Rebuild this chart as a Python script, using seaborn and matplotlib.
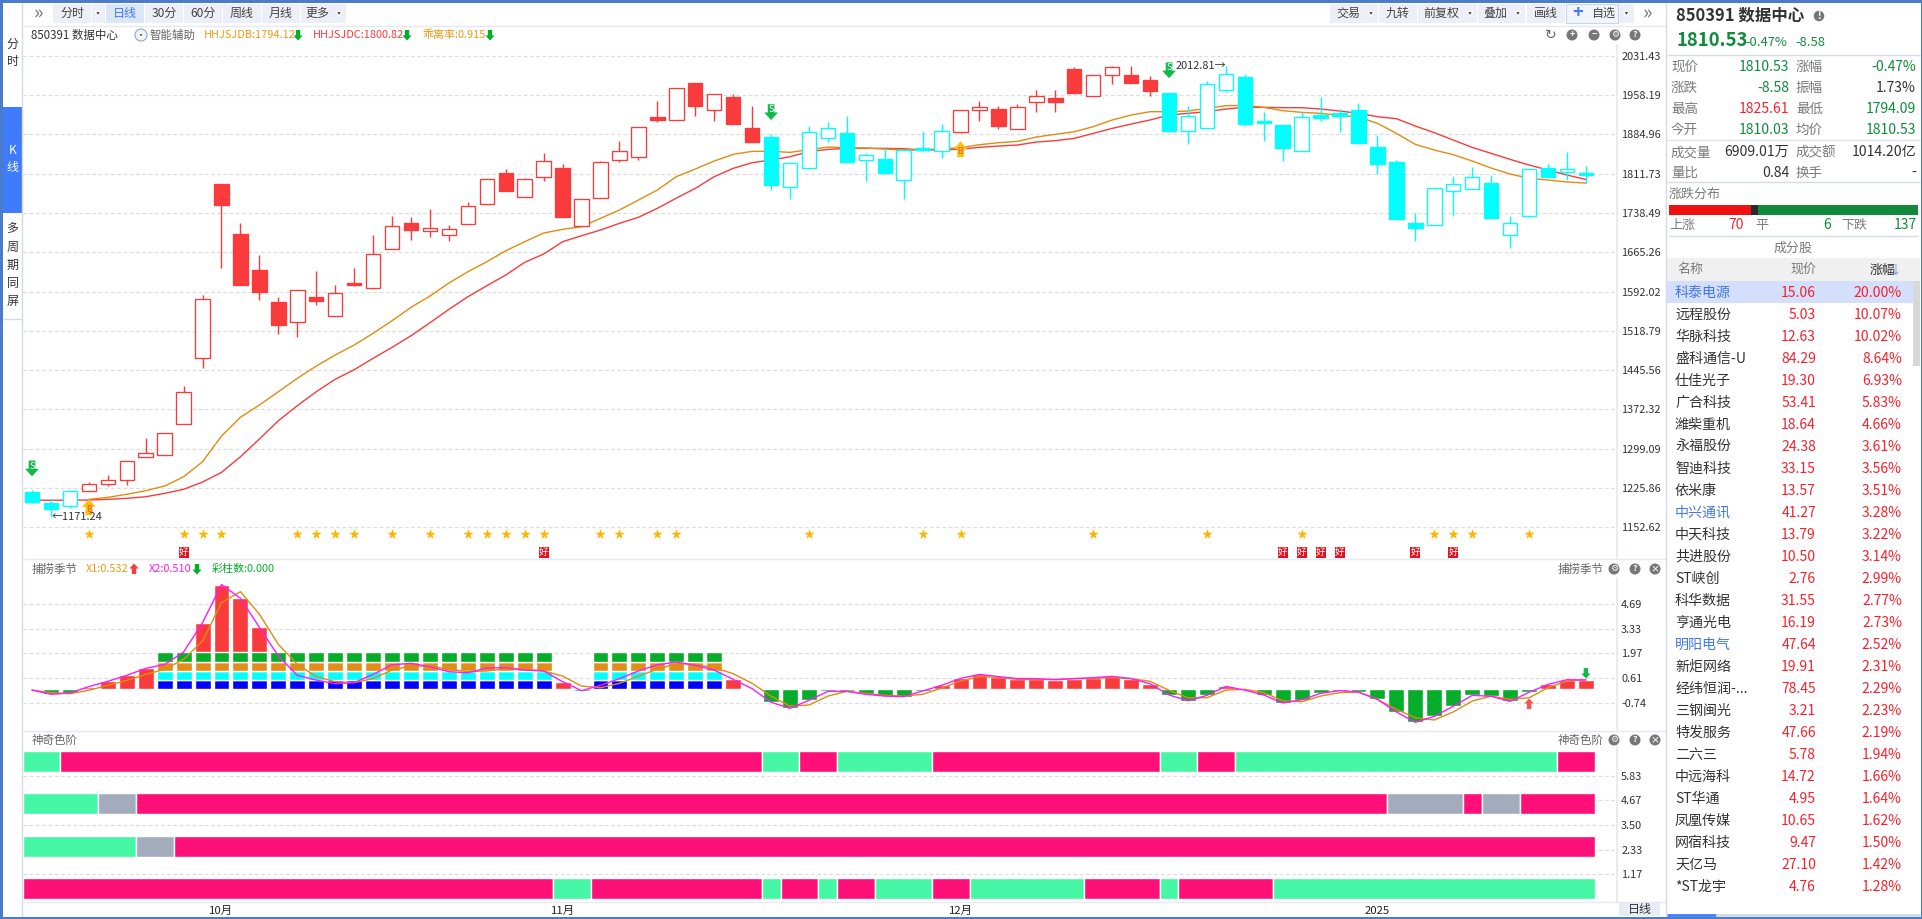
import matplotlib
matplotlib.use("Agg")
import matplotlib.pyplot as plt
import seaborn as sns
import numpy as np
from matplotlib.patches import Rectangle, Polygon, Circle

# ---- price panel, daily candles ----
opens = [1218, 1198, 1193, 1221, 1233, 1240, 1283, 1287, 1345, 1469,
         1792, 1699, 1632, 1572, 1536, 1582, 1546, 1608, 1599, 1671,
         1720, 1704, 1697, 1717, 1756, 1813, 1769, 1805, 1822, 1714,
         1766, 1838, 1842, 1917, 1911, 1980, 1930, 1954, 1897, 1880,
         1786, 1823, 1879, 1887, 1838, 1839, 1799, 1859, 1853, 1889,
         1931, 1932, 1894, 1945, 1953, 2007, 1956, 1996, 1995, 1986,
         1962, 1892, 1896, 1968, 1992, 1910, 1902, 1854, 1921, 1924,
         1930, 1861, 1833, 1719, 1716, 1780, 1783, 1794, 1698, 1733,
         1822, 1815, 1812.9]
closes = [1200, 1187, 1220, 1233, 1240, 1276, 1292, 1328, 1404, 1578,
          1754, 1605, 1592, 1530, 1594, 1575, 1589, 1604, 1661, 1715,
          1707, 1710, 1708, 1751, 1801, 1780, 1801, 1835, 1730, 1764,
          1833, 1853, 1898, 1912, 1972, 1938, 1960, 1905, 1871, 1791,
          1831, 1889, 1896, 1834, 1846, 1813, 1855, 1856, 1891, 1930,
          1935, 1901, 1935, 1956, 1946, 1962, 1995, 2010, 1981, 1966,
          1892, 1920, 1978, 1997, 1905, 1906, 1860, 1918, 1916, 1920,
          1869, 1830, 1727, 1710, 1784, 1792, 1805, 1729, 1720, 1820,
          1805, 1820, 1809.2]
highs = [1222, 1205, 1222, 1237, 1250, 1276, 1319, 1328, 1416, 1585,
         1792, 1720, 1660, 1582, 1594, 1631, 1604, 1636, 1697, 1733,
         1730, 1745, 1716, 1759, 1801, 1820, 1803, 1850, 1830, 1764,
         1835, 1872, 1898, 1947, 1972, 1981, 1960, 1960, 1938, 1886,
         1831, 1900, 1908, 1919, 1850, 1859, 1855, 1891, 1904, 1931,
         1947, 1938, 1941, 1967, 1967, 2010, 1995, 2012, 2012, 1994,
         1964, 1938, 1984, 2012.81, 1997, 1926, 1902, 1927, 1954, 1932,
         1943, 1884, 1838, 1739, 1784, 1807, 1824, 1810, 1733, 1820,
         1830, 1852, 1825.61]
lows = [1200, 1171.24, 1189, 1221, 1230, 1231, 1283, 1287, 1345, 1449,
        1636, 1605, 1576, 1512, 1508, 1567, 1546, 1602, 1597, 1671,
        1688, 1694, 1687, 1717, 1756, 1780, 1769, 1798, 1730, 1714,
        1766, 1834, 1838, 1908, 1911, 1919, 1910, 1905, 1871, 1782,
        1764, 1823, 1871, 1834, 1798, 1813, 1764, 1854, 1841, 1888,
        1910, 1894, 1894, 1927, 1927, 1962, 1956, 1979, 1981, 1957,
        1890, 1867, 1896, 1964, 1901, 1873, 1836, 1854, 1910, 1889,
        1869, 1811, 1727, 1686, 1716, 1733, 1783, 1729, 1673, 1733,
        1803, 1800, 1794.09]
red_ranges = [(3, 38), (49, 59)]

hhjsjdb = [np.nan, np.nan, np.nan, 1204.7, 1208.4, 1214.1, 1220.8, 1229.5, 1246.9, 1274.8,
           1322.7, 1357.6, 1380.5, 1405.3, 1430.2, 1453.1, 1473.6, 1492.3, 1514.1, 1537.6,
           1562.5, 1583.6, 1607.8, 1628.9, 1647.5, 1668, 1684.8, 1701, 1707.9, 1712.7,
           1728.4, 1743.9, 1762.5, 1781.1, 1806, 1820.3, 1835.2, 1847.6, 1853.2, 1853.2,
           1851.3, 1856.3, 1861.3, 1860, 1859.4, 1857.5, 1855.7, 1855.7, 1858.2, 1860,
           1865.6, 1869.3, 1871.8, 1879.9, 1884.9, 1889.8, 1899.2, 1911.6, 1920.9, 1927.1,
           1927.1, 1928.4, 1933.3, 1938.3, 1938.9, 1935.2, 1929, 1925.9, 1924, 1920.3,
           1917.2, 1905.4, 1886.7, 1866.2, 1855.7, 1847, 1835.2, 1822.1, 1811, 1802.9,
           1799.8, 1796.1, 1794.12]
hhjsjdc = [1203.4, 1202.9, 1203.4, 1203.4, 1204.7, 1206.6, 1209.6, 1215.9, 1223.4, 1237,
           1255, 1284.1, 1317.1, 1351.2, 1379.2, 1405.3, 1428.4, 1446.3, 1467.5, 1488,
           1509.6, 1533.8, 1558.8, 1582.3, 1602.8, 1622.7, 1646.4, 1661.9, 1684.8, 1696,
           1706.6, 1719.1, 1730.3, 1747, 1766, 1784.2, 1806, 1821.5, 1832.1, 1837,
           1843.2, 1852.6, 1856.9, 1858.8, 1858.8, 1858.8, 1858.2, 1855.7, 1855.7, 1857.5,
           1860.6, 1863.1, 1865, 1870.6, 1873.1, 1877.4, 1886.7, 1896, 1904.1, 1911.6,
           1920.9, 1924, 1927.1, 1932.1, 1935.2, 1935.2, 1934.6, 1934.6, 1932.1, 1928.4,
           1924, 1917.8, 1914.1, 1900.4, 1888, 1874.3, 1860.6, 1849.5, 1838.3, 1827.7,
           1818.4, 1809.1, 1800.82]

sell_signals = [0, 39, 60]
buy_signals = [3, 49]
star_days = [3, 8, 9, 10, 14, 15, 16, 17, 19, 21, 23, 24, 25, 26, 27, 30, 31, 33, 34,
             41, 47, 49, 56, 62, 67, 74, 75, 76, 79]
good_days = [8, 27, 66, 67, 68, 69, 73, 75]
star_level = 1140
good_level = 1105
price_ticks = [2031.43, 1958.19, 1884.96, 1811.73, 1738.49, 1665.26, 1592.02, 1518.79,
               1445.56, 1372.32, 1299.09, 1225.86, 1152.62]

# ---- second panel ----
x1_line = [-0.04, -0.18, -0.24, -0.05, 0.22, 0.49, 0.82, 1.10, 1.65, 2.65,
           4.76, 5.36, 4.12, 2.47, 1.37, 0.70, 0.42, 0.37, 0.59, 1.06,
           1.28, 1.28, 1.10, 0.97, 1.01, 1.13, 1.10, 1.01, 0.73, 0.18,
           0.09, 0.33, 0.73, 1.10, 1.41, 1.37, 1.19, 0.86, 0.33, -0.37,
           -0.92, -0.86, -0.37, -0.11, -0.22, -0.33, -0.37, -0.27, 0.07, 0.46,
           0.70, 0.66, 0.55, 0.53, 0.55, 0.59, 0.60, 0.64, 0.59, 0.44,
           -0.05, -0.46, -0.46, -0.04, 0.0, -0.18, -0.62, -0.68, -0.37, -0.18,
           -0.15, -0.55, -1.10, -1.56, -1.68, -1.24, -0.64, -0.37, -0.55, -0.46,
           0.09, 0.46, 0.532]
x2_line = [-0.04, -0.27, -0.20, 0.15, 0.44, 0.77, 1.15, 1.37, 2.05, 3.66,
           5.75, 5.00, 3.40, 1.83, 0.77, 0.51, 0.31, 0.37, 0.82, 1.35,
           1.43, 1.24, 0.97, 0.91, 1.17, 1.19, 1.06, 1.01, 0.42, -0.07,
           0.22, 0.59, 1.01, 1.35, 1.50, 1.32, 1.06, 0.55, 0.04, -0.71,
           -1.04, -0.60, -0.11, -0.11, -0.27, -0.37, -0.40, -0.09, 0.22, 0.60,
           0.82, 0.70, 0.59, 0.59, 0.53, 0.59, 0.64, 0.71, 0.59, 0.31,
           -0.31, -0.62, -0.33, 0.16, -0.04, -0.31, -0.75, -0.57, -0.22, -0.07,
           -0.15, -0.55, -1.24, -1.81, -1.48, -0.93, -0.33, -0.38, -0.66, -0.16,
           0.27, 0.53, 0.51]
stack_days = list(range(7, 28)) + list(range(30, 37))
stack_levels = [0.49, 1.00, 1.48, 2.03]
stack_colors = ["#0000FF", "#00FFFF", "#E08E18", "#05AD2B"]
panel2_ticks = [4.69, 3.33, 1.97, 0.61, -0.74]

# ---- third panel, runs of (state, number of days) from top row to bottom row ----
row_top = [("g", 2), ("p", 37), ("g", 2), ("p", 2), ("g", 5), ("p", 12), ("g", 2), ("p", 2), ("g", 17), ("p", 2)]
row_second = [("g", 4), ("n", 2), ("p", 66), ("n", 4), ("p", 1), ("n", 2), ("p", 4)]
row_third = [("g", 6), ("n", 2), ("p", 75)]
row_bottom = [("p", 28), ("g", 2), ("p", 9), ("g", 1), ("p", 2), ("g", 1), ("p", 2), ("g", 3), ("p", 2),
              ("g", 6), ("p", 4), ("g", 1), ("p", 5), ("g", 17)]
panel3_ticks = [5.83, 4.67, 3.50, 2.33, 1.17]
month_days = [10, 28, 49, 71]
month_labels = ["10月", "11月", "12月", "2025"]

# ---- side table ----
stock_names = ["科泰电源", "远程股份", "华脉科技", "盛科通信-U", "仕佳光子", "广合科技", "潍柴重机",
               "永福股份", "智迪科技", "依米康", "中兴通讯", "中天科技", "共进股份", "ST峡创",
               "科华数据", "亨通光电", "明阳电气", "新炬网络", "经纬恒润-...", "三钢闽光", "特发服务",
               "二六三", "中远海科", "ST华通", "凤凰传媒", "网宿科技", "天亿马", "*ST龙宇"]
stock_prices = ["15.06", "5.03", "12.63", "84.29", "19.30", "53.41", "18.64", "24.38", "33.15", "13.57",
                "41.27", "13.79", "10.50", "2.76", "31.55", "16.19", "47.64", "19.91", "78.45", "3.21",
                "47.66", "5.78", "14.72", "4.95", "10.65", "9.47", "27.10", "4.76"]
stock_pcts = ["20.00%", "10.07%", "10.02%", "8.64%", "6.93%", "5.83%", "4.66%", "3.61%", "3.56%", "3.51%",
              "3.28%", "3.22%", "3.14%", "2.99%", "2.77%", "2.73%", "2.52%", "2.31%", "2.29%", "2.23%",
              "2.19%", "1.94%", "1.66%", "1.64%", "1.62%", "1.50%", "1.42%", "1.28%"]
blue_names = ["科泰电源", "中兴通讯", "明阳电气"]

RED = "#F93B3B"
CYAN = "#00FFFF"
ORANGE = "#E08C10"
MAGENTA = "#FF1AFF"
GRN = "#05AD2B"
TXT_GREEN = "#118A3C"
TXT_RED = "#F5222D"
LABEL = "#7A7A7A"
GRID = "#DDDDDD"
EDGE = "#E6E9F2"

W, H = 1922, 919
AX_L, AX_R = 23, 1617
SPACING = 18.95
FIRST = 32

sns.set_theme(style="white")
plt.rcParams["font.family"] = ["Noto Sans CJK SC", "DejaVu Sans"]
plt.rcParams["axes.unicode_minus"] = False

fig = plt.figure(figsize=(W / 100, H / 100), dpi=100, facecolor="white")


def make_axes(top, bottom, ylim):
    ax = fig.add_axes([AX_L / W, 1 - bottom / H, (AX_R - AX_L) / W, (bottom - top) / H])
    ax.set_xlim((AX_L - FIRST) / SPACING, (AX_R - FIRST) / SPACING)
    ax.set_ylim(*ylim)
    ax.set_facecolor("white")
    for side in ["top", "bottom", "left"]:
        ax.spines[side].set_visible(False)
    ax.spines["right"].set_color(EDGE)
    ax.set_xticks([])
    return ax


def style_ticks(ax, ticks, fmt="{:.2f}"):
    ax.yaxis.tick_right()
    ax.set_yticks(ticks)
    ax.set_yticklabels([fmt.format(t) for t in ticks], fontsize=7.9, color="#333333")
    ax.tick_params(axis="y", length=0, pad=3)
    ax.grid(axis="y", color=GRID, linestyle=(0, (3, 2)), linewidth=0.9)
    ax.set_axisbelow(True)


days = np.arange(len(closes))

# price panel
ax_price = make_axes(45, 558, (1095.4, 2051.4))
style_ticks(ax_price, price_ticks)
sns.lineplot(x=days, y=hhjsjdc, ax=ax_price, color=RED, linewidth=1.0, errorbar=None, zorder=2)
sns.lineplot(x=days, y=hhjsjdb, ax=ax_price, color=ORANGE, linewidth=1.0, errorbar=None, zorder=2)
for i in days:
    is_red = any(a <= i <= b for a, b in red_ranges)
    c = RED if is_red else CYAN
    ax_price.vlines(i, lows[i], highs[i], color=c, linewidth=1.0, zorder=3)
    filled = closes[i] < opens[i]
    ax_price.bar(i, abs(closes[i] - opens[i]), bottom=min(opens[i], closes[i]), width=0.76,
                 facecolor=c if filled else "white", edgecolor=c, linewidth=0.95, zorder=4)
ax_price.scatter(star_days, [star_level] * len(star_days), marker="*", s=62, color="#FFB400",
                 linewidths=0, zorder=4)

# capture panel
ax_cap = make_axes(578, 730, (-2.23, 6.11))
style_ticks(ax_cap, panel2_ticks)
ax_cap.bar(days, x2_line, width=0.84, color=[RED if v > 0 else GRN for v in x2_line], zorder=2)
bottom = 0
for level, col in zip(stack_levels, stack_colors):
    ax_cap.bar(stack_days, [level - bottom] * len(stack_days), bottom=bottom, width=0.84, color=col, zorder=3)
    bottom = level
sns.lineplot(x=days, y=x1_line, ax=ax_cap, color=ORANGE, linewidth=1.0, errorbar=None, zorder=4)
sns.lineplot(x=days, y=x2_line, ax=ax_cap, color=MAGENTA, linewidth=1.0, errorbar=None, zorder=5)

# colour rows panel
ax_rows = make_axes(745, 902, (-0.13, 7.28))
style_ticks(ax_rows, panel3_ticks)
state_colors = {"g": "#45F7A5", "p": "#FF0F78", "n": "#A2ACBC"}
for row_base, runs in zip([6, 4, 2, 0], [row_top, row_second, row_third, row_bottom]):
    start = 0
    for state, n in runs:
        ax_rows.bar(start - 0.5, 1, bottom=row_base, width=n, align="edge", color=state_colors[state], zorder=2)
        start += n
ax_rows.set_xticks(month_days)
ax_rows.set_xticklabels(month_labels, fontsize=8.2, color="#222222")
ax_rows.tick_params(axis="x", length=0, pad=3)

# overlay for everything that is not chart data, in picture pixels
ui = fig.add_axes([0, 0, 1, 1], zorder=10)
ui.set_xlim(0, W)
ui.set_ylim(H, 0)
ui.axis("off")
ui.patch.set_alpha(0)


def text(x, y, s, color="#333333", px=12, ha="left", weight="normal"):
    ui.text(x, y, s, color=color, fontsize=px * 0.72, ha=ha, va="center", fontweight=weight)


def box(x0, y0, x1, y1, color, **kw):
    ui.add_patch(Rectangle((x0, y0), x1 - x0, y1 - y0, facecolor=color, edgecolor=kw.pop("edge", "none"),
                           linewidth=kw.pop("lw", 0), **kw))


def hline(y, x0, x1, color=EDGE, lw=1.0):
    ui.plot([x0, x1], [y, y], color=color, linewidth=lw, solid_capstyle="butt")


def arrow(x, y, up, color, size=1.0):
    s = 1 if up else -1
    pts = [(-2.2, 5), (2.2, 5), (2.2, -0.5), (4.6, -0.5), (0, -5.5), (-4.6, -0.5), (-2.2, -0.5)]
    ui.add_patch(Polygon([(x + a * size, y + s * b * size) for a, b in pts], closed=True, facecolor=color, edgecolor="none"))


def to_ui(ax, xv, yv):
    px_x, px_y = ax.transData.transform((xv, yv))
    return px_x, H - px_y


# chart window borders
box(0, 0, W, 2.5, "#4A7CC8")
box(0, 0, 2.5, H, "#4A7CC8")
box(0, H - 2.5, W, H, "#4A7CC8")
box(W - 1.5, 0, W, H, "#4A7CC8")

# left tabs
ui.plot([22, 22], [3, H - 3], color="#D5D9E8", linewidth=1.0)
box(3, 107, 22, 213, "#3F7BFF")
for y, s, c in [(44, "分", "#333333"), (62, "时", "#333333"), (150, "K", "white"), (168, "线", "white"),
                (229, "多", "#333333"), (247, "周", "#333333"), (265, "期", "#333333"),
                (283, "同", "#333333"), (301, "屏", "#333333")]:
    text(12.5, y, s, c, 12, ha="center")
hline(319, 3, 22, "#D5D9E8")

# top toolbar
hline(25.5, 22, 1666, EDGE)
text(39, 14, "»", "#777777", 20, ha="center")
for x0, x1, s, bg, c in [(53, 91, "分时", "#ECEFF7", "#444444"), (92, 105, "", "#ECEFF7", "#444444"),
                         (106, 144, "日线", "#DCE6F7", "#3F7BFF"), (145, 183, "30分", "#ECEFF7", "#444444"),
                         (184, 222, "60分", "#ECEFF7", "#444444"), (223, 261, "周线", "#ECEFF7", "#444444"),
                         (262, 300, "月线", "#ECEFF7", "#444444"), (301, 346, "更多", "#ECEFF7", "#444444"),
                         (1330, 1378, "交易", "#ECEFF7", "#444444"), (1379, 1417, "九转", "#ECEFF7", "#444444"),
                         (1418, 1477, "前复权", "#ECEFF7", "#444444"), (1478, 1525, "叠加", "#ECEFF7", "#444444"),
                         (1527, 1565, "画线", "#ECEFF7", "#444444")]:
    box(x0, 4, x1, 23, bg)
    if s:
        has_caret = x0 in (301, 1330, 1418, 1478)
        text((x0 + x1) / 2 - (6 if has_caret else 0), 13.5, s, c, 12, ha="center")
    if x0 in (92, 301, 1330, 1418, 1478):
        cx = x1 - 7
        ui.add_patch(Polygon([(cx - 3, 11.5), (cx + 3, 11.5), (cx, 16)], facecolor="#333333"))
box(1566, 4, 1618, 23, "#F2F5FB", edge="#C9D6EE", lw=0.8)
text(1578, 13.5, "+", "#3F7BFF", 18, ha="center", weight="bold")
text(1603, 13.5, "自选", "#444444", 12, ha="center")
box(1619, 4, 1634, 23, "#ECEFF7")
ui.add_patch(Polygon([(1623.5, 11.5), (1629.5, 11.5), (1626.5, 16)], facecolor="#333333"))
text(1648, 14, "»", "#777777", 20, ha="center")

# legend row price
text(31, 35, "850391 数据中心", "#333333", 11.5)
ui.add_patch(Circle((141, 35), 6, facecolor="#EEF2FA", edgecolor="#9AA6C0", linewidth=0.8))
ui.add_patch(Polygon([(138, 33.5), (144, 33.5), (141, 37.5)], facecolor="#444444"))
text(150, 35, "智能辅助", "#666666", 11.5)
text(204, 35, "HHJSJDB:1794.12", "#EE9A12", 11)
arrow(298, 35, False, GRN)
text(313, 35, "HHJSJDC:1800.82", "#F93B3B", 11)
arrow(407, 35, False, GRN)
text(422, 35, "乖离率:0.915", "#EE9A12", 11)
arrow(490, 35, False, GRN)


def icon(x, y, s):
    ui.add_patch(Circle((x, y), 5.5, facecolor="#777777", edgecolor="none"))
    text(x, y - 0.5, s, "white", 9, ha="center", weight="bold")


ui.text(1551, 35, "↻", color="#666666", fontsize=10, ha="center", va="center", family="DejaVu Sans")
for x, s in [(1572, "+"), (1594, "−"), (1615, "⚙"), (1635, "?")]:
    icon(x, 35, s)

# signal arrows, hung off the candles they belong to
for i in sell_signals:
    x, y = to_ui(ax_price, i, highs[i])
    arrow(x, y - 22, False, "#12B84B", 1.5)
    text(x, y - 24, "S", "white", 9, ha="center")
for i in buy_signals:
    x, y = to_ui(ax_price, i, lows[i])
    arrow(x, y + 17, True, "#FFC107", 1.5)
    text(x, y + 19, "B", "#F55A2C", 9, ha="center")
for i in good_days:
    x, y = to_ui(ax_price, i, good_level)
    box(x - 5, y - 5.5, x + 5, y + 5.5, "#E8101C")
    text(x, y, "好", "white", 9.5, ha="center")

# high and low labels
lx, ly = to_ui(ax_price, 1, lows[1])
text(lx + 1, ly, "←1171.24", "#333333", 11)
hx, hy = to_ui(ax_price, 63, highs[63])
text(hx, hy, "2012.81→", "#333333", 11, ha="right")

# panel separators
hline(558.5, 22, 1666)
hline(730.5, 22, 1666)
hline(902, 22, 1666)

# panel 2 header
text(32, 569, "捕捞季节", "#666666", 11.5)
text(86, 569, "X1:0.532", "#EE9A12", 11)
arrow(134, 569, True, "#FF3B3B")
text(149, 569, "X2:0.510", "#FF1AFF", 11)
arrow(197, 569, False, GRN)
text(212, 569, "彩柱数:0.000", "#05AD2B", 11)
text(1558, 569, "捕捞季节", "#666666", 11.5)
for x, s in [(1614, "⚙"), (1635, "?"), (1655, "×")]:
    icon(x, 569, s)

x, y = to_ui(ax_cap, 79, x2_line[79])
arrow(x, 704, True, "#FF5050")
x, y = to_ui(ax_cap, 82, x1_line[82])
arrow(x, 673, False, "#12B84B")

# panel 3 header
text(32, 740, "神奇色阶", "#666666", 11.5)
text(1558, 740, "神奇色阶", "#666666", 11.5)
for x, s in [(1614, "⚙"), (1635, "?"), (1655, "×")]:
    icon(x, 740, s)
box(1619, 903, 1660, 916, "#E8ECF5")
text(1640, 909.5, "日线", "#333333", 12, ha="center")

# right panel
PX = 1667
ui.plot([PX - 1, PX - 1], [3, H - 3], color="#D5D9E8", linewidth=1.0)
text(1676, 16, "850391 数据中心", "#333333", 16.5, weight="bold")
ui.add_patch(Circle((1819, 16), 6, facecolor="#777777"))
text(1819, 16, "!", "white", 10, ha="center", weight="bold")
text(1676, 41, "1810.53", TXT_GREEN, 18.5, weight="bold")
text(1745, 42, "-0.47%", TXT_GREEN, 13)
text(1795, 42, "-8.58", TXT_GREEN, 13)
hline(54.5, PX, W - 2, "#D5D9E8")

rows = [(67, "现价", "1810.53", TXT_GREEN, "涨幅", "-0.47%", TXT_GREEN),
        (88, "涨跌", "-8.58", TXT_GREEN, "振幅", "1.73%", "#333333"),
        (109, "最高", "1825.61", TXT_RED, "最低", "1794.09", TXT_GREEN),
        (130, "今开", "1810.03", TXT_GREEN, "均价", "1810.53", TXT_GREEN),
        (152, "成交量", "6909.01万", "#333333", "成交额", "1014.20亿", "#333333"),
        (173, "量比", "0.84", "#333333", "换手", "-", "#333333")]
for y, a, av, ac, b, bv, bc in rows:
    text(1671, y, a, LABEL, 13.5)
    text(1789, y, av, ac, 14, ha="right")
    text(1796, y, b, LABEL, 13.5)
    text(1916, y, bv, bc, 14, ha="right")
hline(139.5, PX, W - 2, "#E0E3EC")
hline(182, PX, W - 2, "#D5D9E8")

text(1669, 194, "涨跌分布", LABEL, 13)
box(1669, 205, 1751, 215, "#EE1111")
box(1751, 205, 1758, 215, "#2A2A2A")
box(1758, 205, 1918, 215, "#118A3C")
text(1669, 225, "上涨", LABEL, 13)
text(1744, 225, "70", TXT_RED, 14, ha="right")
text(1755, 225, "平", LABEL, 13)
text(1831, 225, "6", TXT_GREEN, 14, ha="right")
text(1841, 225, "下跌", LABEL, 13)
text(1917, 225, "137", TXT_GREEN, 14, ha="right")
hline(235.5, 1669, 1918, "#D5D9E8")
text(1793, 248, "成分股", LABEL, 13, ha="center")

box(PX, 258, W - 2, 281, "#F0F0F0")
text(1677, 270, "名称", LABEL, 13)
text(1816, 270, "现价", LABEL, 13, ha="right")
text(1896, 270, "涨幅", "#333333", 13, ha="right")
text(1902, 270, "↓", "#5B9BF0", 12, ha="right")
box(PX, 281, 1913, 303, "#D4DFFB")
box(1913, 281, 1920, 366, "#D8D8D8")
for n, (name, price, pct) in enumerate(zip(stock_names, stock_prices, stock_pcts)):
    y = 293 + n * 21.99
    text(1675, y, name, "#4477E8" if name in blue_names else "#333333", 14)
    text(1816, y, price, TXT_RED, 14, ha="right")
    text(1902, y, pct, TXT_RED, 14, ha="right")
hline(915, 1667, 1716, "#3F7BFF", 2)
hline(915, 1716, W - 2, "#D5D9E8", 2)

fig.savefig("out.png", dpi=100)
